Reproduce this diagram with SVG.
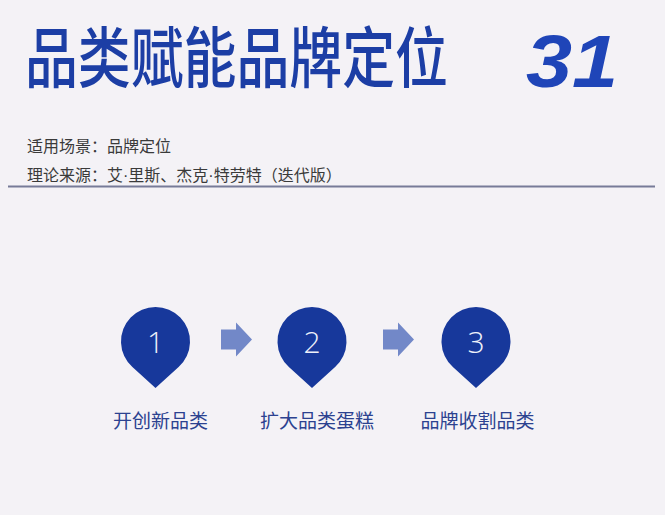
<svg xmlns="http://www.w3.org/2000/svg" width="665" height="515" viewBox="0 0 665 515">
<style>
.title{font-family:"Noto Sans CJK SC","Noto Sans",sans-serif;font-weight:500;fill:#1c3ea5}
.num{font-family:"Liberation Sans",Arial,sans-serif;font-weight:700;font-style:italic;fill:#1f45b8}
.sub{font-family:"Noto Sans CJK SC",sans-serif;font-size:16px;fill:#3a3a3a}
.dot{font-family:"Liberation Sans",sans-serif}
.pin{fill:#17389b}
.pnum{font-family:"Open Sans","Noto Sans",sans-serif;font-weight:300;font-size:30px;fill:#eef1fa;text-anchor:middle}
.lbl{font-family:"Noto Sans CJK SC",sans-serif;font-size:19px;fill:#2c4290;text-anchor:middle}
.arr{fill:#7288c8}
</style>
<defs>
<path id="pinShape" d="M0,46.5 L-23.1,25.6 A34.5,34.5 0 1 1 23.1,25.6 Z"/>
<path id="arrowShape" d="M0,-10 L15,-10 L15,-17 L31,0 L15,17 L15,10 L0,10 Z"/>
</defs>
<rect width="665" height="515" fill="#f4f2f6"/>
<g id="header">
<text class="title" transform="translate(25,82) scale(1,1.1)" font-size="60" textLength="423" lengthAdjust="spacingAndGlyphs">品类赋能品牌定位</text>
<text class="num" x="526" y="87" font-size="74" textLength="92" lengthAdjust="spacingAndGlyphs">31</text>
<text class="sub" x="27" y="152">适用场景：品牌定位</text>
<text class="sub" x="27" y="181">理论来源：艾<tspan class="dot">·</tspan>里斯、杰克<tspan class="dot">·</tspan>特劳特（迭代版）</text>
<line x1="8" y1="186.5" x2="655" y2="186.5" stroke="#777b98" stroke-width="2"/>
</g>
<g id="connectors">
<use href="#arrowShape" class="arr" x="221" y="339.5"/>
<use href="#arrowShape" class="arr" x="383" y="339.5"/>
</g>
<g id="node1">
<use href="#pinShape" class="pin" x="155.5" y="341.5"/>
<text class="pnum" x="155.5" y="353">1</text>
<text class="lbl" x="160.5" y="428">开创新品类</text>
</g>
<g id="node2">
<use href="#pinShape" class="pin" x="312" y="341.5"/>
<text class="pnum" x="312" y="353">2</text>
<text class="lbl" x="317" y="428">扩大品类蛋糕</text>
</g>
<g id="node3">
<use href="#pinShape" class="pin" x="476" y="341.5"/>
<text class="pnum" x="476" y="353">3</text>
<text class="lbl" x="477.5" y="428">品牌收割品类</text>
</g>
</svg>
